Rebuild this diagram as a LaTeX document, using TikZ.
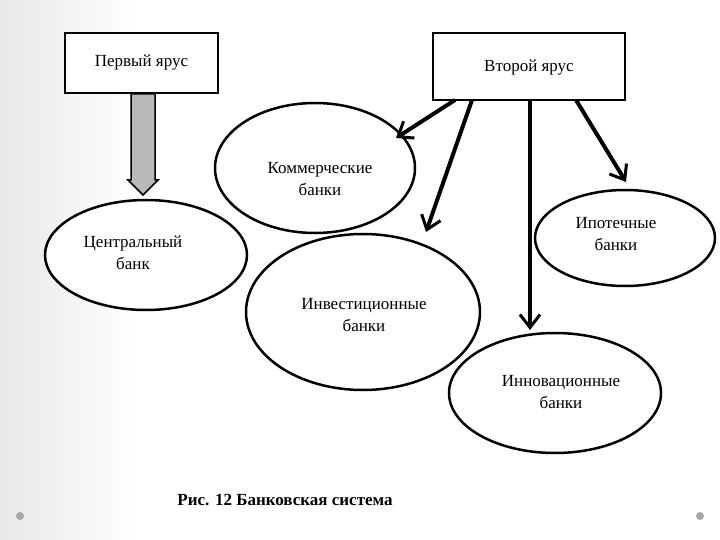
\documentclass[tikz,border=0pt]{standalone}
\usepackage{fontspec}
\setmainfont{Liberation Serif}
\usetikzlibrary{arrows.meta,shapes.geometric}
\begin{document}
\begin{tikzpicture}[x=1pt,y=-1pt,
  box/.style={draw,line width=2.2pt,fill=white},
  oval/.style={draw,line width=2.5pt,fill=white,ellipse},
  lbl/.style={align=center,font=\fontsize{17}{22}\selectfont},
  arr/.style={line width=4pt,-{Straight Barb[length=13pt,width=20pt,line width=3pt]}}]
\useasboundingbox (0,0) rectangle (720,540);
\fill[white] (0,0) rectangle (720,540);
\shade[left color=gray!18,right color=white] (0,0) rectangle (140,540);
\fill[gray!70] (20,516) circle (4) (700,516) circle (4);
% boxes
\node[box,minimum width=153,minimum height=60] (t1) at (141.5,63) {};
\node[box,minimum width=192,minimum height=67] (t2) at (529,66.5) {};
\node[lbl] at (141.5,63) {Первый ярус};
\node[lbl] at (529,68) {Второй ярус};
% ellipses
\node[oval,minimum width=200,minimum height=130] (kb) at (315,168) {};
\node[oval,minimum width=202,minimum height=110] (cb) at (146,255) {};
\node[oval,minimum width=180,minimum height=96] (ib) at (625,238) {};
\node[oval,minimum width=234,minimum height=156] (inv) at (363,312) {};
\node[oval,minimum width=212,minimum height=120] (inn) at (555,393) {};
\node[lbl] at (320,179) {Коммерческие\\банки};
\node[lbl] at (133,253) {Центральный\\банк};
\node[lbl] at (616,234) {Ипотечные\\банки};
\node[lbl] at (364,315) {Инвестиционные\\банки};
\node[lbl] at (561,392) {Инновационные\\банки};
% gray block arrow
\filldraw[fill=gray!55,draw=black,line width=1.5pt]
  (131,94) -- (155,94) -- (155,180) -- (158,180) -- (143,195) -- (128,180) -- (131,180) -- cycle;
% arrows
\coordinate (a1s) at (455,100); \coordinate (a1e) at (396,138);
\coordinate (a2s) at (472,100); \coordinate (a2e) at (426,232);
\coordinate (a3s) at (530,100); \coordinate (a3e) at (530,330);
\coordinate (a4s) at (576,100); \coordinate (a4e) at (626,182);
\draw[arr] (a1s) -- (a1e);
\draw[arr] (a2s) -- (a2e);
\draw[arr] (a3s) -- (a3e);
\draw[arr] (a4s) -- (a4e);
\node[font=\bfseries\fontsize{17}{19}\selectfont] (cap) at (285,500) {Рис. 12 Банковская система};
\end{tikzpicture}
\end{document}
